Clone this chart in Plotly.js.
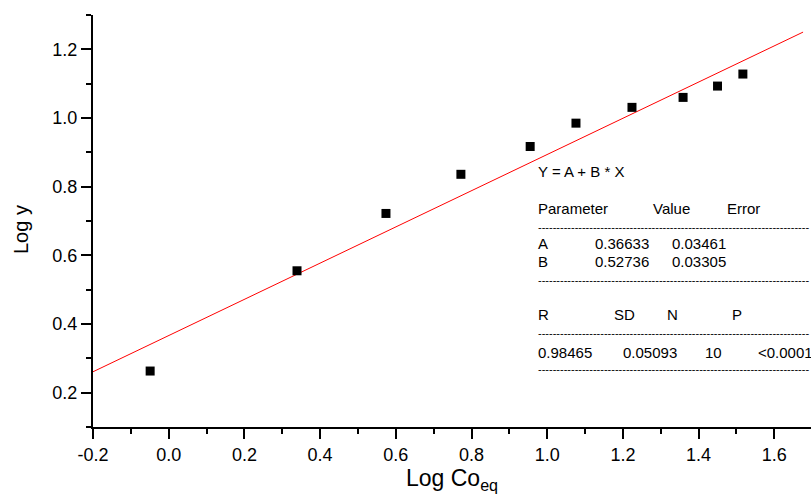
<!DOCTYPE html>
<html>
<head>
<meta charset="utf-8">
<script src="https://cdn.plot.ly/plotly-3.0.1.min.js"></script>
<style>html,body{margin:0;padding:0;background:#fff;}#chart{width:811px;height:495px;}</style>
</head>
<body>
<div id="chart"></div>
<script>
// Data
const logCo = [-0.049, 0.339, 0.574, 0.772, 0.955, 1.076, 1.224, 1.359, 1.450, 1.517];
const logY  = [0.263, 0.555, 0.722, 0.836, 0.917, 0.985, 1.031, 1.060, 1.093, 1.128];
const fitA = 0.36633;
const fitB = 0.52736;
const fitX = [-0.2, 1.676];
const fitY = fitX.map(x => fitA + fitB * x);

const xTicks = [-0.2, 0.0, 0.2, 0.4, 0.6, 0.8, 1.0, 1.2, 1.4, 1.6];
const xTickText = ['-0.2', '0.0', '0.2', '0.4', '0.6', '0.8', '1.0', '1.2', '1.4', '1.6'];
const yTicks = [0.2, 0.4, 0.6, 0.8, 1.0, 1.2];
const yTickText = ['0.2', '0.4', '0.6', '0.8', '1.0', '1.2'];
const xTitle = 'Log Co<sub>eq</sub>';
const yTitle = 'Log y';

// Fit report text (rows of [text, pixel x])
const reportRows = [
  {y: 172, cells: [['Y = A + B * X', 536]]},
  {y: 208, cells: [['Parameter', 536], ['Value', 651], ['Error', 725]]},
  {y: 227, cells: [['dash', 536]]},
  {y: 243, cells: [['A', 536], ['0.36633', 593], ['0.03461', 670]]},
  {y: 261, cells: [['B', 536], ['0.52736', 593], ['0.03305', 670]]},
  {y: 280, cells: [['dash', 536]]},
  {y: 314, cells: [['R', 536], ['SD', 612], ['N', 665], ['P', 730]]},
  {y: 333, cells: [['dash', 536]]},
  {y: 352, cells: [['0.98465', 536], ['0.05093', 621], ['10', 703], ['<0.0001', 756]]},
  {y: 369, cells: [['dash', 536]]}
];

const W = 811, H = 495;
const M = {l: 93, r: 0, t: 15, b: 68};
const pw = W - M.l - M.r, ph = H - M.t - M.b;
const px2paperX = px => (px - M.l) / pw;
const px2paperY = py => 1 - (py - M.t) / ph;

const FAM = 'Liberation Sans';
const annotations = [];
reportRows.forEach(r => {
  r.cells.forEach(c => {
    const isDash = c[0] === 'dash';
    annotations.push({
      xref: 'paper', yref: 'paper',
      x: px2paperX(c[1]), y: px2paperY(r.y),
      xanchor: 'left', yanchor: 'middle',
      text: isDash ? '-'.repeat(74) : c[0],
      showarrow: false,
      font: {family: FAM, size: isDash ? 11 : 15, color: '#000'}
    });
  });
});
// y-axis title (placed slightly below the plot centre, as in the reference)
annotations.push({
  xref: 'paper', yref: 'paper',
  x: px2paperX(21), y: px2paperY(230),
  xanchor: 'center', yanchor: 'middle',
  text: yTitle, textangle: -90, showarrow: false,
  font: {family: FAM, size: 20, color: '#000'}
});

const traces = [
  {
    x: fitX, y: fitY, mode: 'lines', type: 'scatter',
    line: {color: '#ff0000', width: 1}, hoverinfo: 'skip'
  },
  {
    x: logCo, y: logY, mode: 'markers', type: 'scatter',
    marker: {symbol: 'square', size: 9, color: '#000'}
  }
];

const axisFont = {family: FAM, size: 18, color: '#000'};
const layout = {
  width: W, height: H,
  margin: M,
  paper_bgcolor: '#fff', plot_bgcolor: '#fff',
  showlegend: false,
  xaxis: {
    range: [-0.2, -0.2 + pw / 378.5],
    tickmode: 'array', tickvals: xTicks, ticktext: xTickText,
    ticks: 'outside', ticklen: 10, tickwidth: 2, tickcolor: '#000',
    minor: {dtick: 0.1, tick0: -0.2, ticks: 'outside', ticklen: 5, tickwidth: 2, tickcolor: '#000', showgrid: false},
    showline: true, linecolor: '#000', linewidth: 2,
    showgrid: false, zeroline: false,
    tickfont: axisFont,
    title: {text: xTitle, font: {family: FAM, size: 23, color: '#000'}, standoff: 6}
  },
  yaxis: {
    range: [0.1, 1.3],
    tickmode: 'array', tickvals: yTicks, ticktext: yTickText,
    ticks: 'outside', ticklen: 10, tickwidth: 2, tickcolor: '#000',
    minor: {dtick: 0.1, tick0: 0.1, ticks: 'outside', ticklen: 5, tickwidth: 2, tickcolor: '#000', showgrid: false},
    showline: true, linecolor: '#000', linewidth: 2,
    showgrid: false, zeroline: false,
    tickfont: axisFont
  },
  annotations: annotations
};

Plotly.newPlot('chart', traces, layout, {displayModeBar: false, staticPlot: true});
</script>
</body>
</html>
